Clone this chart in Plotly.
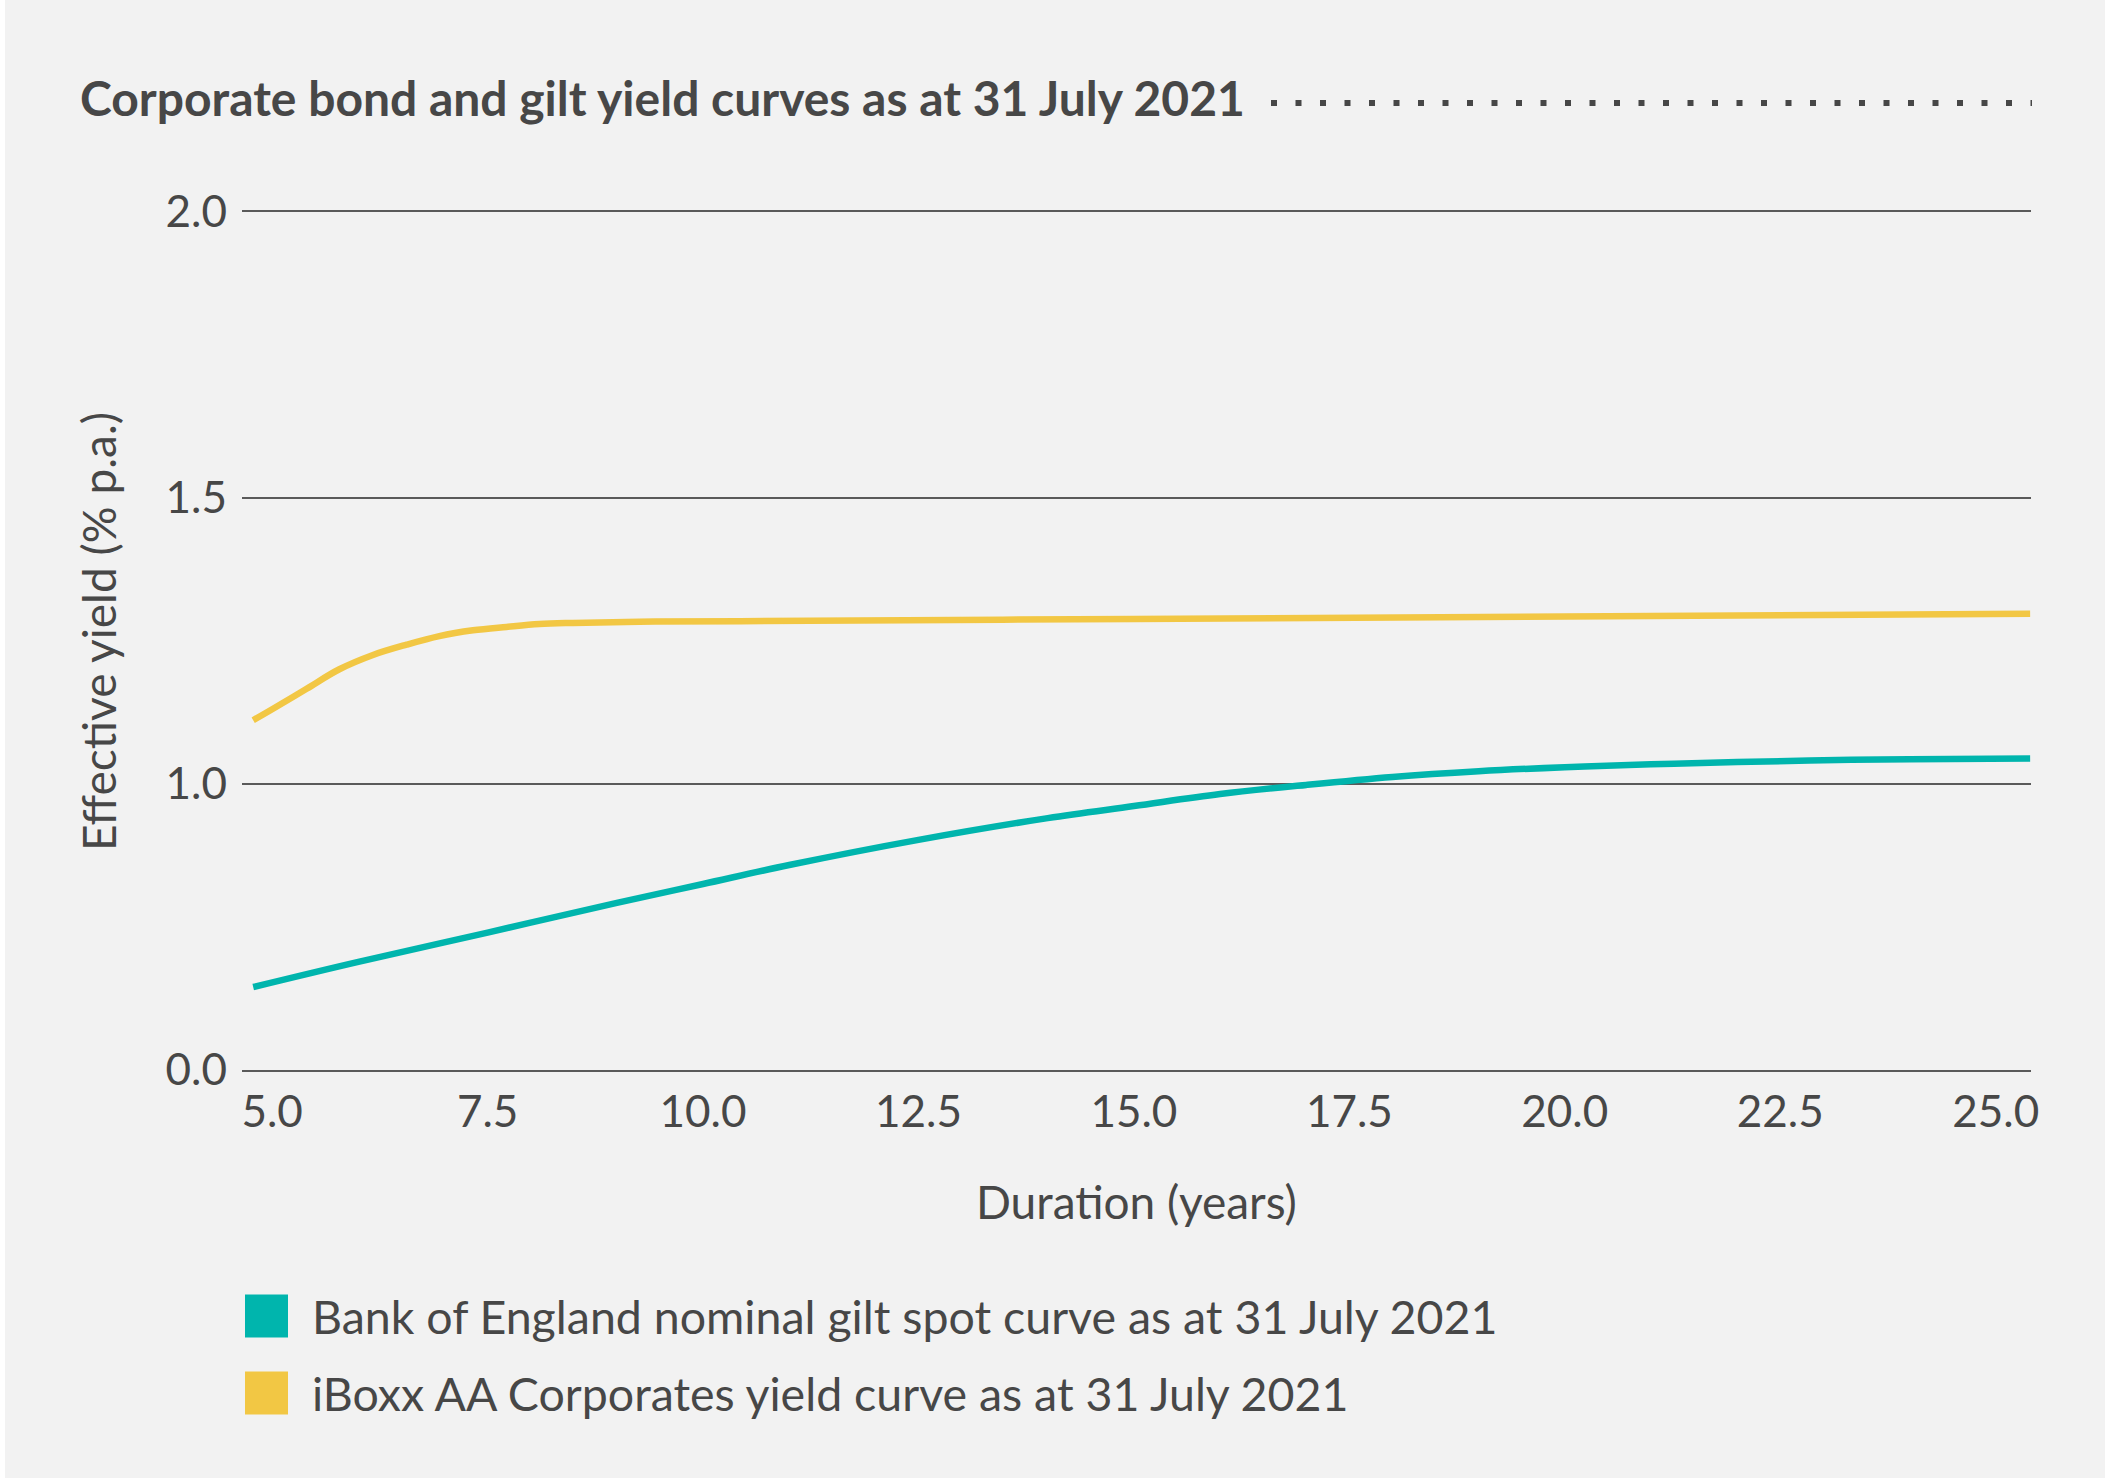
import plotly.graph_objects as go

# ---- data ----
series_names = [
    "Bank of England nominal gilt spot curve as at 31 July 2021",
    "iBoxx AA Corporates yield curve as at 31 July 2021",
]
series_colors = ["#00B5AD", "#F2C744"]

gilt_duration = [4.78, 6.0, 7.5, 9.0, 10.0, 11.0, 12.5, 14.0, 15.0, 16.0, 17.0, 18.0, 19.0, 20.0, 21.0, 22.0, 23.0, 24.0, 25.4]
gilt_yield = [0.645, 0.689, 0.740, 0.792, 0.825, 0.858, 0.902, 0.940, 0.961, 0.982, 0.998, 1.012, 1.022, 1.029, 1.034, 1.038, 1.041, 1.043, 1.044]

corp_duration = [4.78, 5.01, 5.40, 5.78, 6.17, 6.56, 6.94, 7.33, 7.72, 8.10, 8.49, 9.26, 10.43, 15.0, 20.0, 25.4]
corp_yield = [1.111, 1.131, 1.166, 1.200, 1.225, 1.243, 1.258, 1.268, 1.274, 1.279, 1.281, 1.283, 1.284, 1.288, 1.292, 1.297]

x_ticks = [5.0, 7.5, 10.0, 12.5, 15.0, 17.5, 20.0, 22.5, 25.0]
x_ticktext = ["5.0", "7.5", "10.0", "12.5", "15.0", "17.5", "20.0", "22.5", "25.0"]
y_ticks = [0.5, 1.0, 1.5, 2.0]
y_ticktext = ["0.0", "1.0", "1.5", "2.0"]

title_text = "Corporate bond and gilt yield curves as at 31 July 2021"
x_title = "Duration (years)"
y_title = "Effective yield (% p.a.)"

# ---- layout geometry (pixels) ----
W, H = 2105, 1484
L, R, T, B = 242, 2031, 209, 1070
pw, ph = R - L, B - T


def px_x(px):
    return (px - L) / pw


def px_y(py):
    return (B - py) / ph


BG = "#F2F2F2"
TXT = "#474747"
GRID = "#5a5a5a"

fig = go.Figure()
fig.add_trace(go.Scatter(x=gilt_duration, y=gilt_yield, mode="lines",
                         line=dict(color=series_colors[0], width=6.5, shape="spline", smoothing=1.0),
                         name=series_names[0], showlegend=False))
fig.add_trace(go.Scatter(x=corp_duration, y=corp_yield, mode="lines",
                         line=dict(color=series_colors[1], width=6.5, shape="spline", smoothing=1.0),
                         name=series_names[1], showlegend=False))

shapes = [
    # background panel (thin white edge left and bottom in the reference)
    dict(type="rect", xref="paper", yref="paper", layer="below",
         x0=px_x(5), x1=px_x(W + 5), y0=px_y(1478), y1=px_y(-5),
         fillcolor=BG, line=dict(width=0)),
    # dotted leader after title
    dict(type="line", xref="paper", yref="paper",
         x0=px_x(1271), x1=px_x(2032), y0=px_y(103), y1=px_y(103),
         line=dict(color=TXT, width=6, dash="6px,18.5px")),
]

annotations = [
    dict(text=title_text, xref="paper", yref="paper", x=px_x(78), y=px_y(98),
         xanchor="left", yanchor="middle", showarrow=False,
         font=dict(family="Lato", size=48, color=TXT, weight="bold")),
    dict(text=x_title, xref="paper", yref="paper", x=px_x(1136), y=px_y(1201),
         xanchor="center", yanchor="middle", showarrow=False,
         font=dict(family="Lato", size=46, color=TXT)),
    dict(text=y_title, xref="paper", yref="paper", x=px_x(98), y=px_y(632),
         xanchor="center", yanchor="middle", showarrow=False, textangle=-90,
         font=dict(family="Lato", size=46, color=TXT)),
]

legend_rows = [1316, 1393]
for name, color, cy in zip(series_names, series_colors, legend_rows):
    shapes.append(dict(type="rect", xref="paper", yref="paper",
                       x0=px_x(245), x1=px_x(288), y0=px_y(cy + 21.5), y1=px_y(cy - 21.5),
                       fillcolor=color, line=dict(width=0)))
    annotations.append(dict(text=name, xref="paper", yref="paper", x=px_x(310), y=px_y(cy),
                            xanchor="left", yanchor="middle", showarrow=False,
                            font=dict(family="Lato", size=46.5, color=TXT)))

fig.update_layout(
    width=W, height=H,
    margin=dict(l=L, r=W - R, t=T, b=H - B, pad=0),
    paper_bgcolor="#FFFFFF",
    plot_bgcolor=BG,
    showlegend=False,
    shapes=shapes,
    annotations=annotations,
    xaxis=dict(range=[4.65, 25.41], tickvals=x_ticks, ticktext=x_ticktext,
               showgrid=False, zeroline=False, showline=True, linecolor=GRID, linewidth=2,
               ticks="", ticklabelstandoff=2,
               tickfont=dict(family="Lato", size=44, color=TXT)),
    yaxis=dict(range=[0.5, 2.004], tickvals=y_ticks, ticktext=y_ticktext,
               showgrid=True, gridcolor=GRID, gridwidth=1.5, zeroline=False, showline=False,
               ticks="", ticklabelstandoff=14,
               tickfont=dict(family="Lato", size=44, color=TXT)),
)

fig.write_html("out.html")
